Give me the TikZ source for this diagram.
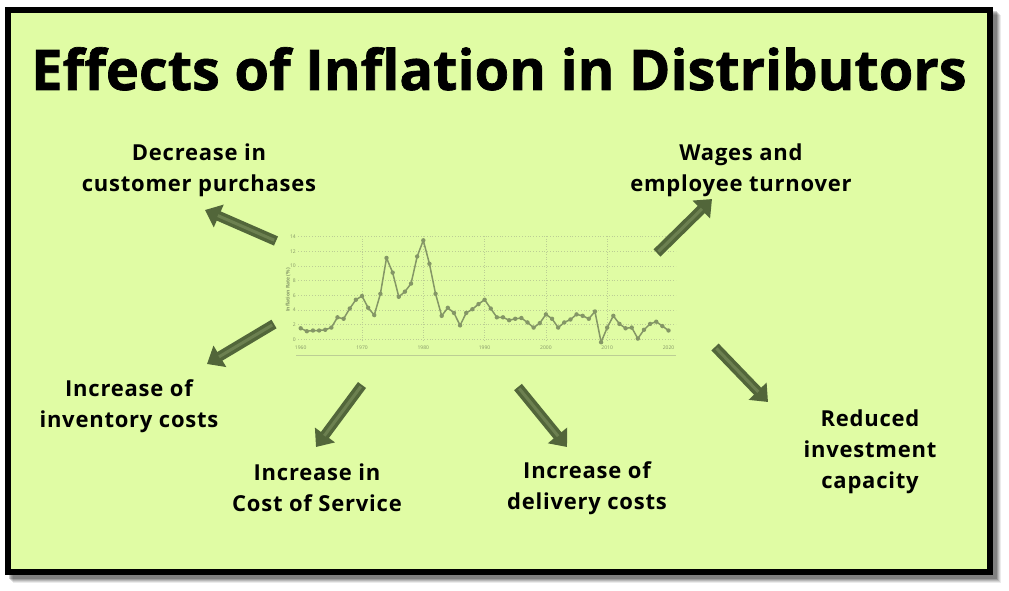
\documentclass[tikz,border=0pt]{standalone}
\usepackage{fontspec}
\setmainfont{Open Sans}
\newfontfamily\titlefont[FakeBold=1.2]{Open Sans}
\newfontfamily\lblfont[LetterSpace=3.5]{Open Sans}
\usetikzlibrary{arrows.meta}
\definecolor{bg}{RGB}{224,252,164}
\definecolor{arrowc}{RGB}{82,102,58}
\definecolor{arrowl}{RGB}{108,128,80}
\definecolor{chartc}{RGB}{132,150,102}
\definecolor{gridc}{RGB}{188,206,148}
\tikzset{
  lbl/.style={font=\lblfont\bfseries\fontsize{22}{31}\selectfont, align=center, text=black},
  bigarrow/.style={line width=10pt, draw=arrowc, -{Triangle[width=24pt,length=15pt]}},
  arrowhl/.style={line width=3pt, draw=arrowl, shorten >=14pt, shorten <=2pt},
  chartlbl/.style={font=\fontsize{5}{6}\selectfont, text=chartc, inner sep=0pt},
}
\begin{document}
\begin{tikzpicture}[x=1pt,y=-1pt]
\useasboundingbox (0,0) rectangle (1009,591);
\fill[white] (0,0) rectangle (1009,591);
% shadow
\foreach \o/\op in {8/0.08,7/0.1,6/0.12,5/0.15,4/0.18}{
  \fill[black,opacity=\op] (5+\o,7+\o) rectangle (993+\o,575+\o);
}
% frame
\fill[black] (5,7) rectangle (993,575);
\fill[bg] (11,13) rectangle (987,569);
% title
\node[font=\titlefont\bfseries\fontsize{56}{64}\selectfont, anchor=base, inner sep=0pt] (title) at (499,90) {Effects of Inflation in Distributors};
% chart
\foreach \v in {0,2,...,14}{
  \draw[gridc, dotted, line width=0.8pt] (298,339.3-\v*7.33) -- (676,339.3-\v*7.33);
  \node[chartlbl, anchor=east] at (296,339.3-\v*7.33) {\v};
}
\foreach \yr in {1970,1980,1990,2000,2010}{
  \draw[gridc, dotted, line width=0.6pt] (300.7+\yr*6.13-1960*6.13,236) -- (300.7+\yr*6.13-1960*6.13,341);
}
\foreach \yr in {1960,1970,...,2020}{
  \node[chartlbl, anchor=north] at (300.7+\yr*6.13-1960*6.13,346) {\yr};
}
\draw[gridc, line width=0.6pt] (296,355) -- (676,355);
\node[chartlbl, rotate=90, font=\bfseries\fontsize{5}{6}\selectfont] (ytitle) at (288,290) {Inflation Rate (\%)};
\draw[chartc, line width=1.5pt, line join=round]
  plot coordinates {
  (300.70,328.30) (306.83,331.24) (312.96,330.50) (319.09,330.50) (325.22,329.77)
  (331.35,327.57) (337.48,317.31) (343.61,318.78) (349.74,308.52) (355.87,299.72)
  (362.00,296.05) (368.13,307.78) (374.26,315.11) (380.39,293.85) (386.52,257.94)
  (392.65,272.60) (398.78,296.79) (404.91,291.66) (411.04,283.59) (417.17,256.47)
  (423.30,240.35) (429.43,263.80) (435.56,293.85) (441.69,315.84) (447.82,307.78)
  (453.95,312.91) (460.08,325.37) (466.21,312.91) (472.34,309.25) (478.47,304.12)
  (484.60,299.72) (490.73,308.52) (496.86,317.31) (502.99,317.31) (509.12,320.24)
  (515.25,318.78) (521.38,318.04) (527.51,322.44) (533.64,327.57) (539.77,323.17)
  (545.90,314.38) (552.03,318.78) (558.16,327.57) (564.29,322.44) (570.42,319.51)
  (576.55,314.38) (582.68,315.84) (588.81,318.78) (594.94,311.45) (601.07,342.23)
  (607.20,327.57) (613.33,315.84) (619.46,323.91) (625.59,328.30) (631.72,327.57)
  (637.85,338.57) (643.98,329.77) (650.11,323.91) (656.24,321.71) (662.37,326.10)
  (668.50,330.50)};
\foreach \px/\py in {
  300.70/328.30, 306.83/331.24, 312.96/330.50, 319.09/330.50, 325.22/329.77,
  331.35/327.57, 337.48/317.31, 343.61/318.78, 349.74/308.52, 355.87/299.72,
  362.00/296.05, 368.13/307.78, 374.26/315.11, 380.39/293.85, 386.52/257.94,
  392.65/272.60, 398.78/296.79, 404.91/291.66, 411.04/283.59, 417.17/256.47,
  423.30/240.35, 429.43/263.80, 435.56/293.85, 441.69/315.84, 447.82/307.78,
  453.95/312.91, 460.08/325.37, 466.21/312.91, 472.34/309.25, 478.47/304.12,
  484.60/299.72, 490.73/308.52, 496.86/317.31, 502.99/317.31, 509.12/320.24,
  515.25/318.78, 521.38/318.04, 527.51/322.44, 533.64/327.57, 539.77/323.17,
  545.90/314.38, 552.03/318.78, 558.16/327.57, 564.29/322.44, 570.42/319.51,
  576.55/314.38, 582.68/315.84, 588.81/318.78, 594.94/311.45, 601.07/342.23,
  607.20/327.57, 613.33/315.84, 619.46/323.91, 625.59/328.30, 631.72/327.57,
  637.85/338.57, 643.98/329.77, 650.11/323.91, 656.24/321.71, 662.37/326.10,
  668.50/330.50}{
  \fill[chartc] (\px,\py) circle (2.2);
}
% labels
\node[lbl] (l1) at (199,170) {Decrease in\\customer purchases};
\node[lbl] (l2) at (741,170) {Wages and\\employee turnover};
\node[lbl] (l3) at (129,406) {Increase of\\inventory costs};
\node[lbl] (l4) at (317,488) {Increase in\\Cost of Service};
\node[lbl] (l5) at (587,488) {Increase of\\delivery costs};
\node[lbl] (l6) at (870,452) {Reduced\\investment\\capacity};
% arrow endpoints
\coordinate (s1) at (276,241); \coordinate (e1) at (205,210);
\coordinate (s2) at (274,324); \coordinate (e2) at (207,364);
\coordinate (s3) at (657,253); \coordinate (e3) at (712,199);
\coordinate (s4) at (715,347); \coordinate (e4) at (768,402);
\coordinate (s5) at (362,385); \coordinate (e5) at (316,447);
\coordinate (s6) at (518,387); \coordinate (e6) at (567,447);
\foreach \i in {1,...,6}{
  \draw[bigarrow] (s\i) -- (e\i);
  \draw[arrowhl] (s\i) -- (e\i);
}
\end{tikzpicture}
\end{document}
